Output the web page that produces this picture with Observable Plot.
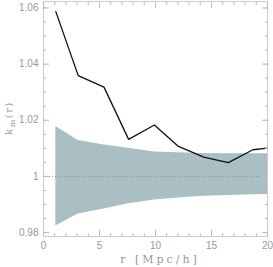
<!DOCTYPE html>
<html><head><meta charset="utf-8">
<script src="https://cdn.jsdelivr.net/npm/d3@7"></script>
<script src="https://cdn.jsdelivr.net/npm/@observablehq/plot@0.6"></script>
<style>body{margin:0;background:#fff;} svg{display:block;}</style>
</head><body><div id="chart"></div>
<script>
const r      = [1.1, 3.1, 5.4, 7.6, 9.9, 12.0, 14.3, 16.5, 18.7, 20.0];
const km     = [1.0587, 1.0359, 1.0318, 1.0132, 1.0183, 1.0108, 1.0069, 1.0049, 1.0095, 1.0101];
const bandHi = [1.0178, 1.0128, 1.0112, 1.0100, 1.0087, 1.0084, 1.0082, 1.0081, 1.0081, 1.0081];
const bandLo = [0.9823, 0.9866, 0.9884, 0.9903, 0.9916, 0.9923, 0.9929, 0.9932, 0.9935, 0.9936];
const xMajor = [0, 5, 10, 15, 20];
const xMinor = [0,1,2,3,4,5,6,7,8,9,10,11,12,13,14,15,16,17,18,19,20];
const yMajor = [0.98, 1.00, 1.02, 1.04, 1.06];
const yMinor = [0.98,0.985,0.99,0.995,1.0,1.005,1.01,1.015,1.02,1.025,1.03,1.035,1.04,1.045,1.05,1.055,1.06];
const xTitle = "r [Mpc/h]";

const data = r.map((x, i) => ({r: x, km: km[i], hi: bandHi[i], lo: bandLo[i]}));
const tickColor = "#bbb";
const labelColor = "#999";
const blank = () => "";

const plot = Plot.plot({
  width: 273,
  height: 267,
  marginLeft: 43,
  marginRight: 6,
  marginTop: 1,
  marginBottom: 31,
  style: {fontFamily: "Liberation Sans, sans-serif", fontSize: "10px", background: "#fff"},
  x: {domain: [0, 20]},
  y: {domain: [0.9786, 1.0623]},
  marks: [
    Plot.areaY(data, {x: "r", y1: "lo", y2: "hi", fill: "#a9bfc4"}),
    Plot.ruleY([1], {stroke: "#888", strokeDasharray: "1,2", strokeWidth: 0.8}),
    Plot.line(data, {x: "r", y: "km", stroke: "#111", strokeWidth: 1.3}),
    Plot.frame({stroke: "#ccc"}),
    // inward minor ticks
    Plot.axisX(xMinor, {anchor: "bottom", tickSize: -3, tickFormat: blank, label: null, stroke: tickColor}),
    Plot.axisX(xMinor, {anchor: "top", tickSize: -3, tickFormat: blank, label: null, stroke: tickColor}),
    Plot.axisY(yMinor, {anchor: "left", tickSize: -3, tickFormat: blank, label: null, stroke: tickColor}),
    Plot.axisY(yMinor, {anchor: "right", tickSize: -3, tickFormat: blank, label: null, stroke: tickColor}),
    // inward major ticks
    Plot.axisX(xMajor, {anchor: "bottom", tickSize: -6, tickFormat: blank, label: null, stroke: tickColor}),
    Plot.axisX(xMajor, {anchor: "top", tickSize: -6, tickFormat: blank, label: null, stroke: tickColor}),
    Plot.axisY(yMajor, {anchor: "left", tickSize: -6, tickFormat: blank, label: null, stroke: tickColor}),
    Plot.axisY(yMajor, {anchor: "right", tickSize: -6, tickFormat: blank, label: null, stroke: tickColor}),
    // labels
    Plot.axisX(xMajor, {anchor: "bottom", tickSize: 0, tickPadding: 5, label: null, fill: labelColor, tickFormat: d => String(d)}),
    Plot.axisY(yMajor, {anchor: "left", tickSize: 0, tickPadding: 5, label: null, fill: labelColor,
      tickFormat: d => Math.abs(d - 1) < 1e-9 ? "1" : d3.format(".2f")(d)})
  ]
});
document.getElementById("chart").appendChild(plot);

const svg = d3.select(plot);
svg.append("text")
  .attr("x", 160).attr("y", 263)
  .attr("text-anchor", "middle")
  .attr("fill", labelColor)
  .style("font-family", "DejaVu Serif, serif")
  .style("font-size", "11px")
  .style("letter-spacing", "3px")
  .text(xTitle);

const yl = svg.append("text")
  .attr("transform", "translate(12,118) rotate(-90)")
  .attr("text-anchor", "middle")
  .attr("fill", labelColor)
  .style("font-family", "DejaVu Serif, serif")
  .style("font-size", "10px")
  .style("letter-spacing", "1.5px");
yl.append("tspan").text("k");
yl.append("tspan").attr("dy", 3).style("font-size", "8px").text("m");
yl.append("tspan").attr("dy", -3).text("(r)");
</script>
</body></html>
